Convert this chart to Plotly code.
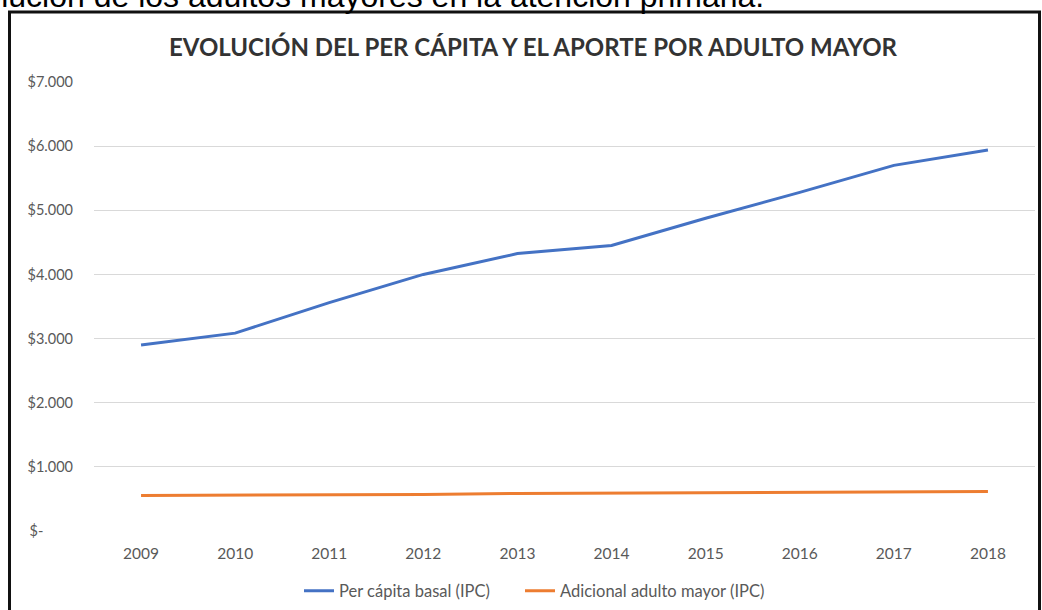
import plotly.graph_objects as go

years = ["2009", "2010", "2011", "2012", "2013", "2014", "2015", "2016", "2017", "2018"]
per_capita_basal = [2900, 3085, 3560, 4000, 4325, 4450, 4875, 5280, 5700, 5940]
adicional_adulto_mayor = [555, 557, 560, 570, 585, 590, 597, 605, 610, 614]

y_tick_vals = [0, 1000, 2000, 3000, 4000, 5000, 6000, 7000]
y_tick_text = ["$-\u00a0\u00a0\u00a0\u00a0\u00a0\u00a0\u00a0\u00a0", "$1.000", "$2.000", "$3.000", "$4.000", "$5.000", "$6.000", "$7.000"]

W, H = 1042, 610
L, R, T, B = 94, 7, 82, 79
pw, ph = W - L - R, H - T - B

def px(x):
    return (x - L) / pw

def py(y):
    return (H - B - y) / ph

fig = go.Figure()
fig.add_trace(go.Scatter(x=years, y=per_capita_basal, mode="lines",
                         name="Per cápita basal (IPC)", legend="legend",
                         line=dict(color="#4472C4", width=3)))
fig.add_trace(go.Scatter(x=years, y=adicional_adulto_mayor, mode="lines",
                         name="Adicional adulto mayor (IPC)", legend="legend2",
                         line=dict(color="#ED7D31", width=3)))

leg_common = dict(orientation="h", y=py(591), xanchor="left", yanchor="middle",
                  font=dict(size=16.5, color="#595959"), itemwidth=30,
                  bgcolor="rgba(0,0,0,0)")

fig.update_layout(
    width=W, height=H,
    margin=dict(l=L, r=R, t=T, b=B, autoexpand=False),
    paper_bgcolor="white", plot_bgcolor="white",
    font=dict(family="Lato, Calibri, sans-serif", color="#595959", size=15),
    showlegend=True,
    legend=dict(x=px(299), **leg_common),
    legend2=dict(x=px(520), **leg_common),
    shapes=[dict(type="rect", xref="paper", yref="paper",
                 x0=px(9.5), x1=px(1039.5), y0=py(640), y1=py(12),
                 line=dict(color="#111111", width=3), fillcolor="rgba(0,0,0,0)", layer="below")],
    annotations=[
        dict(text="<b>EVOLUCIÓN DEL PER CÁPITA Y EL APORTE POR ADULTO MAYOR</b>",
             xref="paper", yref="paper", x=px(533), y=py(46), xanchor="center", yanchor="middle",
             showarrow=False, font=dict(size=24, color="#333333", family="Lato, Calibri, sans-serif")),
        dict(text="Evolución de los adultos mayores en la atención primaria.",
             xref="paper", yref="paper", x=px(766), y=py(-4), xanchor="right", yanchor="middle",
             showarrow=False, font=dict(size=32, color="#000000", family="Liberation Sans, Arial, sans-serif")),
    ],
)
fig.update_xaxes(type="category", range=[-0.5, 9.5], showgrid=False, showline=False, zeroline=False,
                 ticks="", ticklabelstandoff=11, tickfont=dict(size=15.5, color="#595959"))
fig.update_yaxes(range=[0, 7000], tickvals=y_tick_vals, ticktext=y_tick_text,
                 showgrid=True, gridcolor="#D9D9D9", gridwidth=1, zeroline=False,
                 showline=False, ticks="", ticklabelstandoff=20,
                 tickfont=dict(size=14.5, color="#595959"))

fig.write_html("out.html", config={"displayModeBar": False},
               post_script="document.body.style.margin='0';document.body.style.padding='0';")
